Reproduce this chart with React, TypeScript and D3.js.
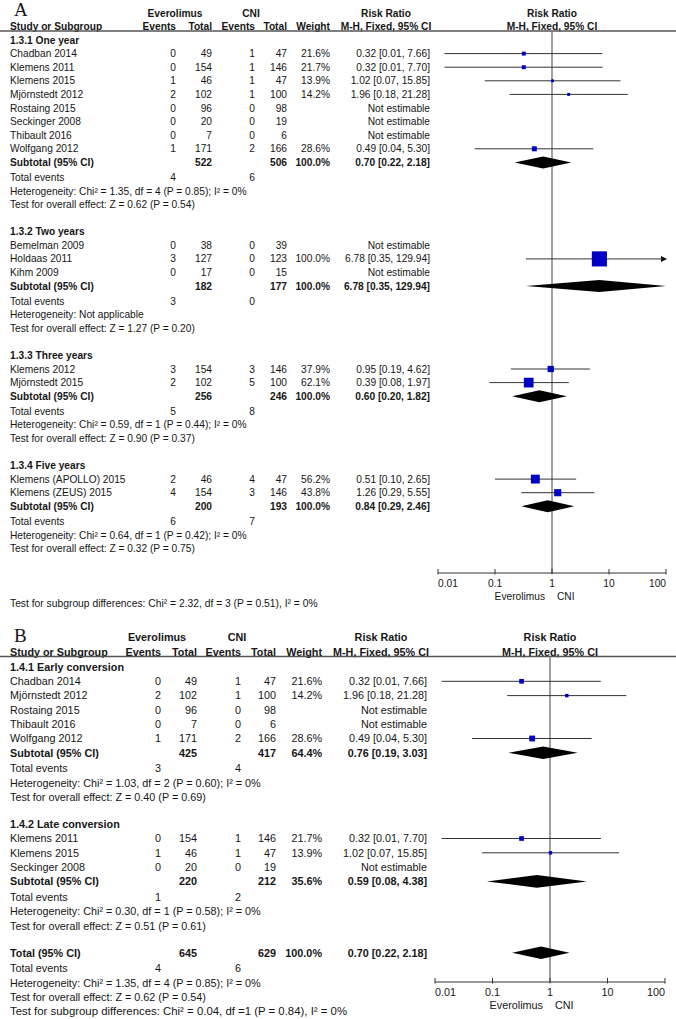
import * as d3 from "d3";

// name, everolimus events, total, CNI events, total, weight %, RR, lower, upper
type Study = [string, number, number, number, number, number | null, number | null, number | null, number | null];
// label, everolimus total, CNI total, weight %, RR, lower, upper
type Summary = [string, number, number, number, number, number, number];

const headTop = ["Everolimus", "CNI", "Risk Ratio", "Risk Ratio"];
const headCols = ["Study or Subgroup", "Events", "Total", "Events", "Total", "Weight", "M-H, Fixed, 95% CI"];
const ticks = [0.01, 0.1, 1, 10, 100];
const favours = ["Everolimus", "CNI"];

// ---- panel A: by follow-up time
const titlesA = ["1.3.1 One year", "1.3.2 Two years", "1.3.3 Three years", "1.3.4 Five years"];
const oneYear: Study[] = [
  ["Chadban 2014", 0, 49, 1, 47, 21.6, 0.32, 0.013, 7.66],
  ["Klemens 2011", 0, 154, 1, 146, 21.7, 0.32, 0.013, 7.7],
  ["Klemens 2015", 1, 46, 1, 47, 13.9, 1.02, 0.066, 15.85],
  ["Mjörnstedt 2012", 2, 102, 1, 100, 14.2, 1.96, 0.18, 21.28],
  ["Rostaing 2015", 0, 96, 0, 98, null, null, null, null],
  ["Seckinger 2008", 0, 20, 0, 19, null, null, null, null],
  ["Thibault 2016", 0, 7, 0, 6, null, null, null, null],
  ["Wolfgang 2012", 1, 171, 2, 166, 28.6, 0.49, 0.044, 5.3],
];
const twoYears: Study[] = [
  ["Bemelman 2009", 0, 38, 0, 39, null, null, null, null],
  ["Holdaas 2011", 3, 127, 0, 123, 100.0, 6.78, 0.35, 129.94],
  ["Kihm 2009", 0, 17, 0, 15, null, null, null, null],
];
const threeYears: Study[] = [
  ["Klemens 2012", 3, 154, 3, 146, 37.9, 0.95, 0.19, 4.62],
  ["Mjörnstedt 2015", 2, 102, 5, 100, 62.1, 0.39, 0.08, 1.97],
];
const fiveYears: Study[] = [
  ["Klemens (APOLLO) 2015", 2, 46, 4, 47, 56.2, 0.51, 0.1, 2.65],
  ["Klemens (ZEUS) 2015", 4, 154, 3, 146, 43.8, 1.26, 0.29, 5.55],
];
const subtotalsA: Summary[] = [
  ["Subtotal (95% CI)", 522, 506, 100.0, 0.7, 0.22, 2.18],
  ["Subtotal (95% CI)", 182, 177, 100.0, 6.78, 0.35, 129.94],
  ["Subtotal (95% CI)", 256, 246, 100.0, 0.6, 0.2, 1.82],
  ["Subtotal (95% CI)", 200, 193, 100.0, 0.84, 0.29, 2.46],
];
const eventsA = [[4, 6], [3, 0], [5, 8], [6, 7]];
const hetA = [
  "Heterogeneity: Chi² = 1.35, df = 4 (P = 0.85); I² = 0%",
  "Heterogeneity: Not applicable",
  "Heterogeneity: Chi² = 0.59, df = 1 (P = 0.44); I² = 0%",
  "Heterogeneity: Chi² = 0.64, df = 1 (P = 0.42); I² = 0%",
];
const effectA = [
  "Test for overall effect: Z = 0.62 (P = 0.54)",
  "Test for overall effect: Z = 1.27 (P = 0.20)",
  "Test for overall effect: Z = 0.90 (P = 0.37)",
  "Test for overall effect: Z = 0.32 (P = 0.75)",
];
const subgroupA = "Test for subgroup differences: Chi² = 2.32, df = 3 (P = 0.51), I² = 0%";

// ---- panel B: by conversion time
const titlesB = ["1.4.1 Early conversion", "1.4.2 Late conversion"];
const early: Study[] = [
  ["Chadban 2014", 0, 49, 1, 47, 21.6, 0.32, 0.013, 7.66],
  ["Mjörnstedt 2012", 2, 102, 1, 100, 14.2, 1.96, 0.18, 21.28],
  ["Rostaing 2015", 0, 96, 0, 98, null, null, null, null],
  ["Thibault 2016", 0, 7, 0, 6, null, null, null, null],
  ["Wolfgang 2012", 1, 171, 2, 166, 28.6, 0.49, 0.044, 5.3],
];
const late: Study[] = [
  ["Klemens 2011", 0, 154, 1, 146, 21.7, 0.32, 0.013, 7.7],
  ["Klemens 2015", 1, 46, 1, 47, 13.9, 1.02, 0.066, 15.85],
  ["Seckinger 2008", 0, 20, 0, 19, null, null, null, null],
];
const subtotalsB: Summary[] = [
  ["Subtotal (95% CI)", 425, 417, 64.4, 0.76, 0.19, 3.03],
  ["Subtotal (95% CI)", 220, 212, 35.6, 0.59, 0.08, 4.38],
];
const eventsB = [[3, 4], [1, 2]];
const hetB = [
  "Heterogeneity: Chi² = 1.03, df = 2 (P = 0.60); I² = 0%",
  "Heterogeneity: Chi² = 0.30, df = 1 (P = 0.58); I² = 0%",
];
const effectB = [
  "Test for overall effect: Z = 0.40 (P = 0.69)",
  "Test for overall effect: Z = 0.51 (P = 0.61)",
];
const totalB: Summary = ["Total (95% CI)", 645, 629, 100.0, 0.7, 0.22, 2.18];
const totalEventsB = [4, 6];
const totalNotesB = [
  "Heterogeneity: Chi² = 1.35, df = 4 (P = 0.85); I² = 0%",
  "Test for overall effect: Z = 0.62 (P = 0.54)",
];
const subgroupB = "Test for subgroup differences: Chi² = 0.04, df =1 (P = 0.84), I² = 0%";

type Group = { title: string; studies: Study[]; sum: Summary; events: number[]; het: string; effect: string };

type Cfg = {
  font: number; footFont: number; h: number; gap: number; extra: number; top: number;
  name: number; evE: number; evT: number; cnE: number; cnT: number; wt: number; rr: number;
  evHead: number; cnHead: number; rrHead: number;
  x0: number; x1: number;
  letterY: number; head1: number; head2: number; lineY: number; axisY: number;
  boxK: number; boxC: number; dh: number;
};

const cfgA: Cfg = {
  font: 10.2, footFont: 10.3, h: 13.6, gap: 27, extra: 1.5, top: 40,
  name: 10, evE: 176, evT: 212, cnE: 255, cnT: 287, wt: 330, rr: 430,
  evHead: 175, cnHead: 251, rrHead: 386,
  x0: 438, x1: 666,
  letterY: 16, head1: 13, head2: 26, lineY: 31, axisY: 573,
  boxK: 0.142, boxC: 0.9, dh: 6,
};
const cfgB: Cfg = {
  font: 10.8, footFont: 11.4, h: 14.3, gap: 27, extra: 1.5, top: 667,
  name: 10, evE: 161, evT: 197, cnE: 241, cnT: 276, wt: 322, rr: 427,
  evHead: 157, cnHead: 237, rrHead: 381,
  x0: 435, x1: 665,
  letterY: 642, head1: 637, head2: 652, lineY: 656.5, axisY: 982,
  boxK: 0.165, boxC: 1.1, dh: 6.3,
};

const FONT = "'Liberation Sans', Arial, sans-serif";
const INK = "#161616";

const ci = (r: number, l: number, u: number) => `${r.toFixed(2)} [${l.toFixed(2)}, ${u.toFixed(2)}]`;

type Line =
  | { kind: "title" | "note"; y: number; text: string }
  | { kind: "study"; y: number; s: Study }
  | { kind: "sum"; y: number; sum: Summary }
  | { kind: "events"; y: number; ev: number[] };

function Panel({ cfg, letter, groups, total, totalEvents, totalNotes, footer, footerBelow }: {
  cfg: Cfg; letter: string; groups: Group[]; total?: Summary; totalEvents?: number[];
  totalNotes?: string[]; footer: string; footerBelow: boolean;
}) {
  const x = d3.scaleLog().domain([0.01, 100]).range([cfg.x0, cfg.x1]).clamp(true);
  const lines: Line[] = [];
  let y = cfg.top;
  groups.forEach((g, gi) => {
    if (gi > 0) y += cfg.gap;
    lines.push({ kind: "title", y, text: g.title });
    g.studies.forEach((s) => { y += cfg.h; lines.push({ kind: "study", y, s }); });
    y += cfg.h; lines.push({ kind: "sum", y, sum: g.sum });
    y += cfg.h + cfg.extra; lines.push({ kind: "events", y, ev: g.events });
    y += cfg.h; lines.push({ kind: "note", y, text: g.het });
    y += cfg.h; lines.push({ kind: "note", y, text: g.effect });
  });
  if (total && totalEvents && totalNotes) {
    y += cfg.gap; lines.push({ kind: "sum", y, sum: total });
    y += cfg.h + cfg.extra; lines.push({ kind: "events", y, ev: totalEvents });
    totalNotes.forEach((t) => { y += cfg.h; lines.push({ kind: "note", y, text: t }); });
  }
  const footerY = footerBelow ? cfg.axisY + 30 : y + cfg.h;

  const T = (props: any) => (
    <text dy="0.35em" fill={INK} fontFamily={FONT} fontSize={cfg.font} {...props} />
  );
  const mid = x(1);

  const row = (l: Line, i: number) => {
    if (l.kind === "title") return <T key={i} x={cfg.name} y={l.y} fontWeight="bold">{l.text}</T>;
    if (l.kind === "note") return <T key={i} x={cfg.name} y={l.y}>{l.text}</T>;
    if (l.kind === "events")
      return (
        <g key={i}>
          <T x={cfg.name} y={l.y}>Total events</T>
          <T x={cfg.evE} y={l.y} textAnchor="end">{l.ev[0]}</T>
          <T x={cfg.cnE} y={l.y} textAnchor="end">{l.ev[1]}</T>
        </g>
      );
    if (l.kind === "sum") {
      const [label, et, ct, w, r, lo, hi] = l.sum;
      const d = `M${x(lo)},${l.y}L${x(r)},${l.y - cfg.dh}L${x(hi)},${l.y}L${x(r)},${l.y + cfg.dh}Z`;
      return (
        <g key={i}>
          <T x={cfg.name} y={l.y} fontWeight="bold">{label}</T>
          <T x={cfg.evT} y={l.y} textAnchor="end" fontWeight="bold">{et}</T>
          <T x={cfg.cnT} y={l.y} textAnchor="end" fontWeight="bold">{ct}</T>
          <T x={cfg.wt} y={l.y} textAnchor="end" fontWeight="bold">{w.toFixed(1)}%</T>
          <T x={cfg.rr} y={l.y} textAnchor="end" fontWeight="bold">{ci(r, lo, hi)}</T>
          <path d={d} fill="#000" />
        </g>
      );
    }
    const [name, ee, et, ce, ct, w, r, lo, hi] = l.s;
    const est = r !== null && lo !== null && hi !== null && w !== null;
    const side = est ? cfg.boxK * (w as number) + cfg.boxC : 0;
    return (
      <g key={i}>
        <T x={cfg.name} y={l.y}>{name}</T>
        <T x={cfg.evE} y={l.y} textAnchor="end">{ee}</T>
        <T x={cfg.evT} y={l.y} textAnchor="end">{et}</T>
        <T x={cfg.cnE} y={l.y} textAnchor="end">{ce}</T>
        <T x={cfg.cnT} y={l.y} textAnchor="end">{ct}</T>
        {est && <T x={cfg.wt} y={l.y} textAnchor="end">{(w as number).toFixed(1)}%</T>}
        <T x={cfg.rr} y={l.y} textAnchor="end">{est ? ci(r as number, lo as number, hi as number) : "Not estimable"}</T>
        {est && (
          <g>
            <line x1={x(lo as number)} x2={x(hi as number)} y1={l.y} y2={l.y} stroke="#333" strokeWidth={1} />
            {(hi as number) > 100 && (
              <path d={`M${cfg.x1 + 1},${l.y}l-6,-3v6z`} fill="#111" />
            )}
            <rect x={x(r as number) - side / 2} y={l.y - side / 2} width={side} height={side} fill="#0000c4" />
          </g>
        )}
      </g>
    );
  };

  return (
    <g>
      <text x={14} y={cfg.letterY} fontFamily="'Liberation Serif', 'Times New Roman', serif" fontSize={19} fill={INK}>{letter}</text>
      <T x={cfg.evHead} y={cfg.head1} textAnchor="middle" fontWeight="bold">{headTop[0]}</T>
      <T x={cfg.cnHead} y={cfg.head1} textAnchor="middle" fontWeight="bold">{headTop[1]}</T>
      <T x={cfg.rrHead} y={cfg.head1} textAnchor="middle" fontWeight="bold">{headTop[2]}</T>
      <T x={mid} y={cfg.head1} textAnchor="middle" fontWeight="bold">{headTop[3]}</T>
      <T x={cfg.name} y={cfg.head2} fontWeight="bold">{headCols[0]}</T>
      <T x={cfg.evE} y={cfg.head2} textAnchor="end" fontWeight="bold">{headCols[1]}</T>
      <T x={cfg.evT} y={cfg.head2} textAnchor="end" fontWeight="bold">{headCols[2]}</T>
      <T x={cfg.cnE} y={cfg.head2} textAnchor="end" fontWeight="bold">{headCols[3]}</T>
      <T x={cfg.cnT} y={cfg.head2} textAnchor="end" fontWeight="bold">{headCols[4]}</T>
      <T x={cfg.wt} y={cfg.head2} textAnchor="end" fontWeight="bold">{headCols[5]}</T>
      <T x={cfg.rrHead} y={cfg.head2} textAnchor="middle" fontWeight="bold">{headCols[6]}</T>
      <T x={mid} y={cfg.head2} textAnchor="middle" fontWeight="bold">{headCols[6]}</T>
      <line x1={0} x2={676} y1={cfg.lineY} y2={cfg.lineY} stroke="#555" strokeWidth={1.3} />
      <line x1={mid} x2={mid} y1={cfg.lineY} y2={cfg.axisY} stroke="#808080" strokeWidth={1.5} />
      {lines.map(row)}
      <line x1={cfg.x0} x2={cfg.x1} y1={cfg.axisY} y2={cfg.axisY} stroke="#333" strokeWidth={1} />
      {ticks.map((t, i) => (
        <g key={t}>
          <line x1={x(t)} x2={x(t)} y1={cfg.axisY - 4} y2={cfg.axisY + 1.5} stroke="#333" strokeWidth={1} />
          <T x={x(t)} y={cfg.axisY + 10.5}
            textAnchor={i === 0 ? "start" : i === ticks.length - 1 ? "end" : "middle"}>{String(t)}</T>
        </g>
      ))}
      <T x={mid - 7} y={cfg.axisY + 23} textAnchor="end">{favours[0]}</T>
      <T x={mid + 5} y={cfg.axisY + 23}>{favours[1]}</T>
      <T x={cfg.name} y={footerY} fontSize={cfg.footFont}>{footer}</T>
    </g>
  );
}

export default function App() {
  const studiesA = [oneYear, twoYears, threeYears, fiveYears];
  const groupsA: Group[] = titlesA.map((title, i) => ({
    title, studies: studiesA[i], sum: subtotalsA[i], events: eventsA[i], het: hetA[i], effect: effectA[i],
  }));
  const studiesB = [early, late];
  const groupsB: Group[] = titlesB.map((title, i) => ({
    title, studies: studiesB[i], sum: subtotalsB[i], events: eventsB[i], het: hetB[i], effect: effectB[i],
  }));
  return (
    <svg width={676} height={1019} style={{ position: "absolute", left: 0, top: 0, background: "#fff" }}>
      <rect width={676} height={1019} fill="#fff" />
      <Panel cfg={cfgA} letter="A" groups={groupsA} footer={subgroupA} footerBelow />
      <Panel cfg={cfgB} letter="B" groups={groupsB} total={totalB} totalEvents={totalEventsB}
        totalNotes={totalNotesB} footer={subgroupB} footerBelow={false} />
    </svg>
  );
}
